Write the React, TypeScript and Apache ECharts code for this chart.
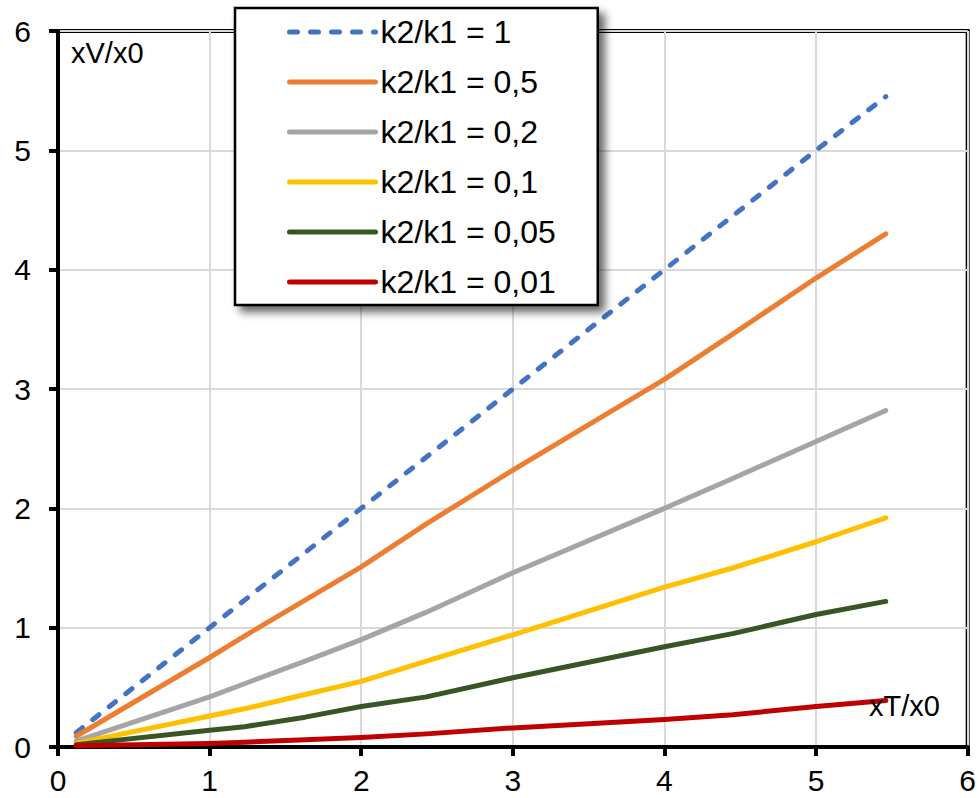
import React, { useEffect, useRef } from "react";
import * as echarts from "echarts";

const xValues = [0.12, 1, 1.23, 1.63, 2, 2.43, 3, 4, 4.45, 5, 5.46];
const seriesNames = [
  "k2/k1 = 1",
  "k2/k1 = 0,5",
  "k2/k1 = 0,2",
  "k2/k1 = 0,1",
  "k2/k1 = 0,05",
  "k2/k1 = 0,01",
];
const ratio1 = [0.12, 1, 1.23, 1.63, 2, 2.43, 3, 4, 4.45, 5, 5.45];
const ratio05 = [0.09, 0.75, 0.93, 1.23, 1.51, 1.87, 2.32, 3.08, 3.46, 3.93, 4.3];
const ratio02 = [0.05, 0.42, 0.53, 0.72, 0.9, 1.13, 1.46, 2.0, 2.25, 2.56, 2.82];
const ratio01 = [0.03, 0.26, 0.32, 0.44, 0.55, 0.72, 0.94, 1.34, 1.5, 1.72, 1.92];
const ratio005 = [0.02, 0.14, 0.17, 0.25, 0.34, 0.42, 0.58, 0.84, 0.95, 1.11, 1.22];
const ratio001 = [0.01, 0.03, 0.04, 0.06, 0.08, 0.11, 0.16, 0.23, 0.27, 0.34, 0.39];
const allValues = [ratio1, ratio05, ratio02, ratio01, ratio005, ratio001];
const colors = ["#4472C4", "#ED7D31", "#A5A5A5", "#FFC000", "#375623", "#C00000"];
const axisTicks = [0, 1, 2, 3, 4, 5, 6];
const yAxisTitle = "xV/x0";
const xAxisTitle = "xT/x0";

const FONT = "'Liberation Sans', Arial, sans-serif";

export default function App() {
  const ref = useRef<HTMLDivElement>(null);
  useEffect(() => {
    document.body.style.margin = "0";
    const chart = echarts.init(ref.current!, null, { renderer: "svg" });
    const series = allValues.map((vals, i) => ({
      name: seriesNames[i],
      type: "line",
      data: xValues.map((x, j) => [x, vals[j]]),
      showSymbol: false,
      symbol: "none",
      color: colors[i],
      lineStyle: {
        color: colors[i],
        width: 5,
        cap: "round",
        join: "round",
        type: i === 0 ? [8, 13] : "solid",
      },
      emphasis: { disabled: true },
    }));
    const axisCommon = {
      type: "value",
      min: axisTicks[0],
      max: axisTicks[axisTicks.length - 1],
      interval: 1,
      axisLine: { show: true, lineStyle: { color: "#000", width: 4 } },
      axisTick: { show: true, inside: false, length: 9, lineStyle: { color: "#000", width: 4 } },
      splitLine: { show: true, lineStyle: { color: "#d9d9d9", width: 2 } },
    };
    chart.setOption({
      animation: false,
      grid: {
        left: 58,
        right: 11,
        top: 31,
        bottom: 51,
        show: true,
        borderColor: "#000",
        borderWidth: 4,
        backgroundColor: "transparent",
      },
      xAxis: {
        ...axisCommon,
        axisLabel: { color: "#000", fontSize: 30, fontFamily: FONT, margin: 18 },
      },
      yAxis: {
        ...axisCommon,
        axisLabel: { color: "#000", fontSize: 30, fontFamily: FONT, margin: 27 },
      },
      legend: {
        orient: "vertical",
        left: 235,
        top: 8,
        padding: [6, 42, 5, 52],
        itemWidth: 86,
        itemHeight: 14,
        itemGap: 14,
        backgroundColor: "#fff",
        borderColor: "#000",
        borderWidth: 2.5,
        shadowColor: "rgba(0,0,0,0.6)",
        shadowBlur: 8,
        shadowOffsetX: 6,
        shadowOffsetY: 6,
        itemStyle: { opacity: 0 },
        lineStyle: { width: 5, cap: "round" },
        textStyle: { color: "#000", fontSize: 32, fontFamily: FONT, lineHeight: 36 },
        data: seriesNames,
        selectedMode: false,
      },
      graphic: [
        {
          type: "text",
          left: 71,
          top: 38,
          style: { text: yAxisTitle, fill: "#000", fontSize: 29, fontFamily: FONT },
          z: 10,
        },
        {
          type: "text",
          left: 869,
          top: 691,
          style: { text: xAxisTitle, fill: "#000", fontSize: 29, fontFamily: FONT },
          z: 10,
        },
      ],
      series,
    });
    return () => chart.dispose();
  }, []);
  return (
    <div
      ref={ref}
      style={{ position: "absolute", left: 0, top: 0, width: 979, height: 798 }}
    />
  );
}
